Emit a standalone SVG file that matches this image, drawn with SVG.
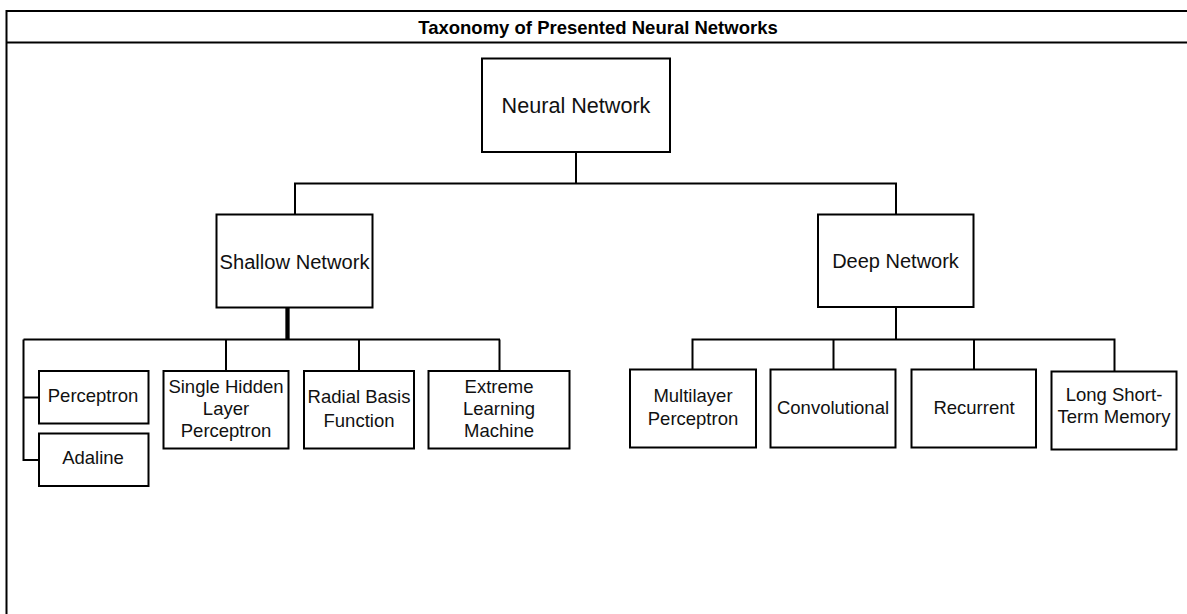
<svg xmlns="http://www.w3.org/2000/svg" width="1187" height="614" viewBox="0 0 1187 614">
  <style>
    .frame { fill: #ffffff; stroke: #000000; stroke-width: 2; }
    .box { fill: #ffffff; stroke: #000000; stroke-width: 2; }
    .edge { fill: none; stroke: #000000; stroke-width: 2; }
    .title { font-family: "Liberation Sans", Arial, sans-serif; font-size: 18.5px; font-weight: bold; fill: #000000; text-anchor: middle; }
    .lbl { font-family: "Liberation Sans", Arial, sans-serif; fill: #111111; text-anchor: middle; }
    .big { font-size: 21.6px; }
    .mid { font-size: 20px; }
    .sm { font-size: 18.5px; }
  </style>

  <rect width="1187" height="614" fill="#ffffff"/>

  <!-- outer frame with title band -->
  <g id="frame">
    <rect class="frame" x="6.5" y="11" width="1190" height="620"/>
    <line class="edge" x1="6.5" y1="42.5" x2="1190" y2="42.5"/>
    <text class="title" x="598" y="34">Taxonomy of Presented Neural Networks</text>
  </g>

  <!-- tree connectors -->
  <g id="connectors">
    <polyline class="edge" points="576,152 576,183.5"/>
    <polyline class="edge" points="295,214 295,183.5 896,183.5 896,214"/>
    <line x1="287.5" y1="307" x2="287.5" y2="339.5" stroke="#000" stroke-width="4.3"/>
    <polyline class="edge" points="23.5,339.5 500,339.5"/>
    <polyline class="edge" points="23.5,339.5 23.5,460 39,460"/>
    <polyline class="edge" points="23.5,397.5 39,397.5"/>
    <polyline class="edge" points="226,339.5 226,371"/>
    <polyline class="edge" points="359,339.5 359,371"/>
    <polyline class="edge" points="499.5,339.5 499.5,371"/>
    <polyline class="edge" points="896,307 896,339.5"/>
    <polyline class="edge" points="692.5,369 692.5,339.5 1114.5,339.5 1114.5,371.5"/>
    <polyline class="edge" points="833.5,339.5 833.5,369"/>
    <polyline class="edge" points="974,339.5 974,369"/>
  </g>

  <g id="n-neural">
    <rect class="box" x="482" y="58.5" width="188" height="93.5"/>
    <text class="lbl big" x="576" y="112.5">Neural Network</text>
  </g>

  <g id="n-shallow">
    <rect class="box" x="216.5" y="214.5" width="156" height="93"/>
    <text class="lbl mid" x="294.5" y="269" textLength="150" lengthAdjust="spacingAndGlyphs">Shallow Network</text>
  </g>

  <g id="n-deep">
    <rect class="box" x="818" y="214.5" width="155.5" height="92.5"/>
    <text class="lbl mid" x="895.5" y="268.3">Deep Network</text>
  </g>

  <g id="n-perceptron">
    <rect class="box" x="39" y="371" width="109.5" height="52.5"/>
    <text class="lbl sm" x="93" y="401.7">Perceptron</text>
  </g>

  <g id="n-adaline">
    <rect class="box" x="39" y="433.5" width="109.5" height="52.5"/>
    <text class="lbl sm" x="93" y="464.3">Adaline</text>
  </g>

  <g id="n-single-hidden">
    <rect class="box" x="163.5" y="371" width="125" height="77.5"/>
    <text class="lbl sm" x="226" y="392.7">Single Hidden</text>
    <text class="lbl sm" x="226" y="415">Layer</text>
    <text class="lbl sm" x="226" y="437.3">Perceptron</text>
  </g>

  <g id="n-rbf">
    <rect class="box" x="304" y="371" width="110" height="77.5"/>
    <text class="lbl sm" x="359" y="403.3">Radial Basis</text>
    <text class="lbl sm" x="359" y="427">Function</text>
  </g>

  <g id="n-elm">
    <rect class="box" x="428.5" y="371" width="141" height="77.5"/>
    <text class="lbl sm" x="499" y="392.7">Extreme</text>
    <text class="lbl sm" x="499" y="415">Learning</text>
    <text class="lbl sm" x="499" y="437.3">Machine</text>
  </g>

  <g id="n-mlp">
    <rect class="box" x="630" y="369.5" width="126" height="78"/>
    <text class="lbl sm" x="693" y="401.7">Multilayer</text>
    <text class="lbl sm" x="693" y="425">Perceptron</text>
  </g>

  <g id="n-cnn">
    <rect class="box" x="770.5" y="369.5" width="125" height="78"/>
    <text class="lbl sm" x="833" y="414.3">Convolutional</text>
  </g>

  <g id="n-rnn">
    <rect class="box" x="911.5" y="369.5" width="124.5" height="78"/>
    <text class="lbl sm" x="974" y="414.3">Recurrent</text>
  </g>

  <g id="n-lstm">
    <rect class="box" x="1051.5" y="371.5" width="125" height="78"/>
    <text class="lbl sm" x="1114" y="400.7">Long Short-</text>
    <text class="lbl sm" x="1114" y="423.3">Term Memory</text>
  </g>
</svg>
